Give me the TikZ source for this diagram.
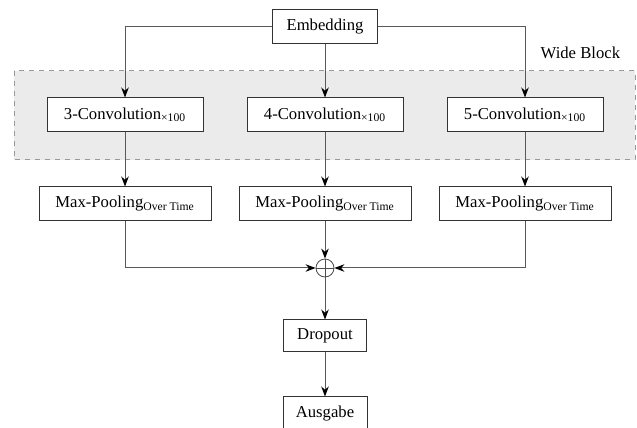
\documentclass[tikz,border=0pt]{standalone}
\usepackage{fontspec}
\setmainfont{Liberation Serif}
\usetikzlibrary{arrows.meta}

\tikzstyle{box} = [rectangle, draw=black!80, line width=0.6pt, fill=white, minimum height=34*0.6pt, inner sep=0pt, font=\fontsize{10}{12}\selectfont]
\tikzstyle{conn} = [draw=black!65, line width=0.6pt, -{Stealth[length=6pt,width=4.5pt,black]}]

\begin{document}
\begin{tikzpicture}[x=0.6pt, y=-0.6pt]
    \useasboundingbox (0, 0) rectangle (637, 428);
    \fill[black!8] (14, 71) rectangle (635, 160);
    \draw[black!40, line width=0.6pt, dashed] (14, 71) rectangle (635, 160);
    \node[anchor=base east, font=\fontsize{10}{12}\selectfont] (W) at (626, 59) {Wide Block};
    \node[box, minimum width=105*0.6pt] (E) at (325, 27) {Embedding};
    \node[box, minimum width=156*0.6pt] (C3) at (125, 115) {3-Convolution\textsubscript{×100}};
    \node[box, minimum width=156*0.6pt] (C4) at (325, 115) {4-Convolution\textsubscript{×100}};
    \node[box, minimum width=156*0.6pt] (C5) at (525, 115) {5-Convolution\textsubscript{×100}};
    \node[box, minimum width=172*0.6pt] (P3) at (125, 204) {Max-Pooling\textsubscript{Over Time}};
    \node[box, minimum width=172*0.6pt] (P4) at (325, 204) {Max-Pooling\textsubscript{Over Time}};
    \node[box, minimum width=172*0.6pt] (P5) at (525, 204) {Max-Pooling\textsubscript{Over Time}};
    \node[circle, draw=black!70, line width=0.5pt, minimum size=18*0.6pt, inner sep=0pt] (S) at (325, 268) {};
    \draw[black!70, line width=0.5pt] (S.north) -- (S.south) (S.west) -- (S.east);
    \node[box, minimum width=83*0.6pt, minimum height=32*0.6pt] (D) at (325, 336) {Dropout};
    \node[box, minimum width=84*0.6pt] (A) at (325, 414) {Ausgabe};
    \draw[conn] (E) -| (C3);
    \draw[conn] (E) -- (C4);
    \draw[conn] (E) -| (C5);
    \draw[conn] (C3) -- (P3);
    \draw[conn] (C4) -- (P4);
    \draw[conn] (C5) -- (P5);
    \draw[conn] (P3) |- (S);
    \draw[conn] (P4) -- (S);
    \draw[conn] (P5) |- (S);
    \draw[conn] (S) -- (D);
    \draw[conn] (D) -- (A);
  \end{tikzpicture}
\end{document}
